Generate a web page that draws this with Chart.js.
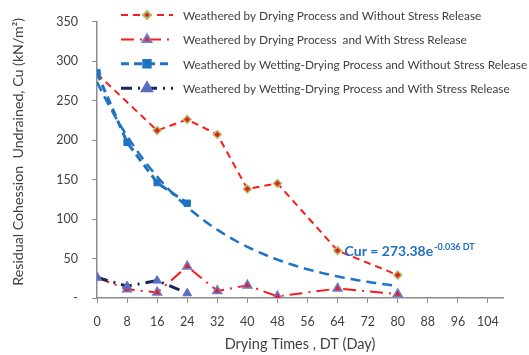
<!DOCTYPE html>
<html>
<head>
<meta charset="utf-8">
<script src="https://cdn.jsdelivr.net/npm/chart.js@4/dist/chart.umd.min.js"></script>
<style>
  html, body { margin: 0; padding: 0; background: #ffffff; }
  #wrap { width: 529px; height: 355px; }
</style>
</head>
<body>
<div id="wrap"><canvas id="c" width="529" height="355"></canvas></div>
<script>
// Drying times (days) at which each series was measured
const daysDryNoRelease   = [0, 16, 24, 32, 40, 48, 64, 80];
const daysDryRelease     = [0, 8, 16, 24, 32, 40, 48, 64, 80];
const daysWetNoRelease   = [0, 8, 16, 24];
const daysWetRelease     = [0, 8, 16, 24];

// Residual undrained cohession Cu (kN/m²)
const cuDryNoRelease = [284, 212, 226, 207, 138, 145, 60, 29];
const cuDryRelease   = [26, 11, 7, 40, 9, 16, 2, 12, 5];
const cuWetNoRelease = [285, 197, 146, 120];
const cuWetRelease   = [26, 15, 22, 6];

// Exponential fit Cur = A·e^(k·DT) for wetting-drying without stress release
const fitA = 273.38;
const fitK = -0.036;
const fitRange = [0, 80];

// Axis ticks
const xTicks = [0, 8, 16, 24, 32, 40, 48, 56, 64, 72, 80, 88, 96, 104];
const yTicks = [0, 50, 100, 150, 200, 250, 300, 350];

const seriesNames = [
  'Weathered by Drying Process and Without Stress Release',
  'Weathered by Drying Process  and With Stress Release',
  'Weathered by Wetting-Drying Process and Without Stress Release',
  'Weathered by Wetting-Drying Process and With Stress Release'
];
const yTitle = 'Residual Cohession  Undrained, Cu (kN/m²)';
const xTitle = 'Drying Times , DT (Day)';

const pairs = (xs, ys) => xs.map((x, i) => ({ x: x, y: ys[i] }));

const fitPoints = [];
for (let d = fitRange[0]; d <= fitRange[1]; d += 1) {
  fitPoints.push({ x: d, y: fitA * Math.exp(fitK * d) });
}

const FONT = 'Lato, "Liberation Sans", sans-serif';
const TEXT = '#404040';
const AXIS = '#8c8c8c';

// Key drawn at the top right: dashed line sample, marker, text
const seriesKey = {
  id: 'seriesKey',
  afterDraw(chart) {
    const ctx = chart.ctx;
    let row = 0;
    chart.data.datasets.forEach((ds) => {
      if (ds.inKey === false) return;
      const y = 15 + row * 24.4;
      const x0 = 121, x1 = 173, xm = 147;
      ctx.save();
      ctx.strokeStyle = ds.borderColor;
      ctx.lineWidth = ds.borderWidth;
      ctx.setLineDash(ds.borderDash || []);
      ctx.beginPath();
      ctx.moveTo(x0, y);
      ctx.lineTo(x1, y);
      ctx.stroke();
      ctx.setLineDash([]);
      ctx.fillStyle = ds.pointBackgroundColor;
      ctx.strokeStyle = ds.pointBorderColor;
      Chart.helpers.drawPoint(ctx, {
        pointStyle: ds.pointStyle,
        radius: ds.pointRadius,
        borderWidth: ds.pointBorderWidth,
        rotation: 0
      }, xm, y);
      ctx.fillStyle = TEXT;
      ctx.font = '11.8px ' + FONT;
      ctx.textBaseline = 'middle';
      ctx.textAlign = 'left';
      ctx.fillText(ds.label, 183, y + 1);
      ctx.restore();
      row++;
    });
  }
};

// Vertical axis title, set a little above the plot's mid-height
const yAxisTitle = {
  id: 'yAxisTitle',
  afterDraw(chart) {
    const ctx = chart.ctx;
    const area = chart.chartArea;
    ctx.save();
    ctx.translate(18, (area.top + area.bottom) / 2 - 8);
    ctx.rotate(-Math.PI / 2);
    ctx.fillStyle = TEXT;
    ctx.font = '14.2px ' + FONT;
    ctx.textAlign = 'center';
    ctx.textBaseline = 'middle';
    ctx.fillText(yTitle, 0, 0);
    ctx.restore();
  }
};

// Fit equation written next to the fitted curve
const fitLabel = {
  id: 'fitLabel',
  afterDatasetsDraw(chart) {
    const ctx = chart.ctx;
    const xs = chart.scales.x, ys = chart.scales.y;
    const x = xs.getPixelForValue(64) + 7;
    const y = ys.getPixelForValue(59);
    ctx.save();
    ctx.fillStyle = '#1f6fc0';
    ctx.textBaseline = 'middle';
    ctx.textAlign = 'left';
    ctx.font = 'bold 14px ' + FONT;
    const main = 'Cur = ' + fitA.toFixed(2) + 'e';
    ctx.fillText(main, x, y);
    const w = ctx.measureText(main).width;
    ctx.font = 'bold 9px ' + FONT;
    ctx.fillText(fitK.toFixed(3) + ' DT', x + w + 1, y - 4);
    ctx.restore();
  }
};

new Chart(document.getElementById('c'), {
  type: 'line',
  data: {
    datasets: [
      {
        label: seriesNames[0],
        data: pairs(daysDryNoRelease, cuDryNoRelease),
        borderColor: '#ff1a1a',
        borderWidth: 2,
        borderDash: [7, 5],
        pointStyle: 'rectRot',
        pointRadius: 4,
        pointBackgroundColor: '#ee1c1c',
        pointBorderColor: '#a9c46a',
        pointBorderWidth: 1.5,
        order: 3
      },
      {
        label: seriesNames[1],
        data: pairs(daysDryRelease, cuDryRelease),
        borderColor: '#ff1a1a',
        borderWidth: 2,
        borderDash: [13, 6, 2, 6],
        pointStyle: 'triangle',
        pointRadius: 5,
        pointBackgroundColor: '#e81c2c',
        pointBorderColor: '#6f7cc6',
        pointBorderWidth: 1.6,
        order: 4
      },
      {
        label: seriesNames[2],
        data: pairs(daysWetNoRelease, cuWetNoRelease),
        borderColor: '#1f73c4',
        borderWidth: 3,
        borderDash: [8, 5],
        pointStyle: 'rect',
        pointRadius: 4.5,
        pointBackgroundColor: '#1f73c4',
        pointBorderColor: '#1f73c4',
        pointBorderWidth: 1,
        order: 1
      },
      {
        label: seriesNames[3],
        data: pairs(daysWetRelease, cuWetRelease),
        borderColor: '#14285a',
        borderWidth: 3,
        borderDash: [11, 6, 2, 6],
        pointStyle: 'triangle',
        pointRadius: 5,
        pointBackgroundColor: '#5b6cc0',
        pointBorderColor: '#5b6cc0',
        pointBorderWidth: 1,
        order: 2
      },
      {
        label: 'Expon. fit',
        inKey: false,
        data: fitPoints,
        borderColor: '#1f73c4',
        borderWidth: 2.5,
        borderDash: [10, 6],
        pointRadius: 0,
        tension: 0,
        order: 5
      }
    ]
  },
  options: {
    responsive: false,
    animation: false,
    spanGaps: true,
    layout: { padding: { top: 12, right: 26, left: 0, bottom: 0 } },
    plugins: {
      legend: { display: false },
      tooltip: { enabled: false }
    },
    scales: {
      x: {
        type: 'linear',
        min: 0,
        max: 108,
        afterBuildTicks: (s) => { s.ticks = xTicks.map(v => ({ value: v })); },
        afterFit: (s) => { s.height = 57; },
        grid: { display: true, drawOnChartArea: false, drawTicks: true, tickLength: 5, color: AXIS },
        border: { display: true, color: AXIS, width: 1.5 },
        ticks: { color: TEXT, font: { family: FONT, size: 12.5 }, padding: 11, maxRotation: 0 },
        title: { display: true, text: xTitle, color: TEXT, font: { family: FONT, size: 14.5 }, padding: { top: 0, bottom: 2 } }
      },
      y: {
        min: 0,
        max: 350,
        afterBuildTicks: (s) => { s.ticks = yTicks.map(v => ({ value: v })); },
        afterFit: (s) => { s.width = 97; },
        grid: { display: true, drawOnChartArea: false, drawTicks: true, tickLength: 5, color: AXIS },
        border: { display: true, color: AXIS, width: 1.5 },
        ticks: { color: TEXT, font: { family: FONT, size: 12.5 }, padding: 14, callback: (v) => v === 0 ? '-' : v },
        title: { display: false }
      }
    }
  },
  plugins: [seriesKey, yAxisTitle, fitLabel]
});
</script>
</body>
</html>
